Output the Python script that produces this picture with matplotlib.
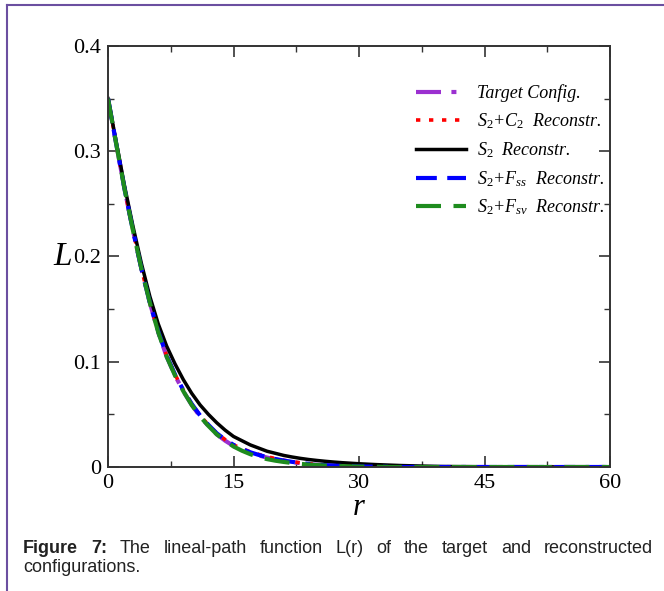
import matplotlib
matplotlib.use("Agg")
import matplotlib.pyplot as plt
from matplotlib.lines import Line2D
from matplotlib.ticker import MultipleLocator
from matplotlib.transforms import blended_transform_factory

plt.rcParams["mathtext.fontset"] = "custom"
plt.rcParams["mathtext.rm"] = "Liberation Serif"
plt.rcParams["mathtext.it"] = "Liberation Serif:italic"

# Distance r
r_vals = [0, 1, 2, 3, 4, 5, 6, 7, 8, 9, 10, 11, 12, 13, 14, 15, 16, 17, 18, 19, 20,
          21, 22, 23, 24, 25, 26, 27, 28, 29, 30, 31, 32, 33, 34, 35, 36, 37, 38, 39, 40,
          45, 50, 55, 60]

# Lineal-path function L(r) for each configuration
target_L = [0.350, 0.306, 0.263, 0.224, 0.188, 0.156, 0.128, 0.105, 0.087, 0.072, 0.059,
            0.048, 0.039, 0.031, 0.025, 0.020, 0.0165, 0.0135, 0.011, 0.009, 0.0072,
            0.0058, 0.0046, 0.0036, 0.0028, 0.0021, 0.0016, 0.0012, 0.0009, 0.0007, 0.0005,
            0.0004, 0.0003, 0.0002, 0.0001, 0.0, 0.0, 0.0, 0.0, 0.0, 0.0,
            0.0, 0.0, 0.0, 0.0]
s2c2_L = [0.350, 0.306, 0.263, 0.224, 0.188, 0.156, 0.129, 0.106, 0.088, 0.073, 0.060,
          0.049, 0.040, 0.032, 0.026, 0.021, 0.0175, 0.0145, 0.012, 0.0098, 0.008,
          0.0064, 0.0051, 0.004, 0.0031, 0.0024, 0.0018, 0.0013, 0.001, 0.0007, 0.0005,
          0.0004, 0.0003, 0.0002, 0.0001, 0.0, 0.0, 0.0, 0.0, 0.0, 0.0,
          0.0, 0.0, 0.0, 0.0]
s2_L = [0.350, 0.308, 0.266, 0.228, 0.193, 0.162, 0.136, 0.115, 0.098, 0.083, 0.070,
        0.059, 0.050, 0.042, 0.035, 0.029, 0.025, 0.021, 0.018, 0.015, 0.013,
        0.011, 0.0095, 0.0082, 0.0071, 0.0062, 0.0054, 0.0047, 0.0041, 0.0036, 0.0031,
        0.0027, 0.0023, 0.0020, 0.0017, 0.0014, 0.0012, 0.0010, 0.0008, 0.0006, 0.0005,
        0.0002, 0.0001, 0.0, 0.0]
s2fss_L = [0.350, 0.306, 0.263, 0.224, 0.188, 0.156, 0.129, 0.106, 0.088, 0.073, 0.060,
           0.049, 0.040, 0.032, 0.026, 0.021, 0.017, 0.014, 0.0115, 0.0094, 0.0076,
           0.0061, 0.0049, 0.0038, 0.003, 0.0023, 0.0017, 0.0013, 0.001, 0.0007, 0.0005,
           0.0004, 0.0003, 0.0002, 0.0001, 0.0, 0.0, 0.0, 0.0, 0.0, 0.0,
           0.0, 0.0, 0.0, 0.0]
s2fsv_L = [0.350, 0.306, 0.263, 0.224, 0.188, 0.156, 0.128, 0.105, 0.087, 0.072, 0.059,
           0.048, 0.039, 0.031, 0.025, 0.0195, 0.0155, 0.0122, 0.0095, 0.0075, 0.006,
           0.0048, 0.0038, 0.003, 0.0023, 0.0018, 0.0014, 0.001, 0.0008, 0.0006, 0.0004,
           0.0003, 0.0002, 0.0001, 0.0, 0.0, 0.0, 0.0, 0.0, 0.0, 0.0,
           0.0, 0.0, 0.0, 0.0]

labels = ["Target Config.", r"$S_2$+$C_2$  Reconstr.", r"$S_2$  Reconstr.",
          r"$S_2$+$F_{ss}$  Reconstr.", r"$S_2$+$F_{sv}$  Reconstr."]

fig = plt.figure(figsize=(6.64, 5.91), dpi=100)
ax = fig.add_axes([0.1627, 0.2098, 0.756, 0.7124])

ax.plot(r_vals, target_L, color="#9b30d0", lw=3, dashes=(6, 2.5, 1.2, 2.5), label=labels[0])
ax.plot(r_vals, s2c2_L, color="#ff0000", lw=2.6, dashes=(1.2, 2.4), label=labels[1])
ax.plot(r_vals, s2_L, color="black", lw=2.5, label=labels[2])
ax.plot(r_vals, s2fss_L, color="#0000ff", lw=3, dashes=(5, 2.5, 5, 2.5, 1.2, 2.5), label=labels[3])
ax.plot(r_vals, s2fsv_L, color="#1e8c1e", lw=3, dashes=(6, 3), label=labels[4])

ax.set_xlim(0, 60)
ax.set_ylim(0, 0.4)
ax.xaxis.set_minor_locator(MultipleLocator(7.5))
ax.yaxis.set_minor_locator(MultipleLocator(0.05))
ax.set_xticks([0, 15, 30, 45, 60])
ax.set_xticklabels(["0", "15", "30", "45", "60"])
ax.set_yticks([0, 0.1, 0.2, 0.3, 0.4])
ax.set_yticklabels(["0", "0.1", "0.2", "0.3", "0.4"])

ax.tick_params(which="both", direction="in", top=True, right=True, color="#333333")
ax.tick_params(which="major", length=8, width=1.2, labelsize=16, pad=5)
ax.tick_params(which="minor", length=4.5, width=1.0)
for lab in ax.get_xticklabels() + ax.get_yticklabels():
    lab.set_family("Liberation Serif")
for sp in ax.spines.values():
    sp.set_linewidth(1.4)
    sp.set_color("#333333")

ax.set_xlabel("r", fontsize=22, family="Liberation Serif", style="italic", labelpad=0)
trans = blended_transform_factory(ax.transAxes, ax.transData)
ax.text(-0.072, 0.2, "L", transform=trans, fontsize=24, family="Liberation Serif",
        style="italic", ha="right", va="center")

ax.legend(loc="upper left", bbox_to_anchor=(0.595, 0.93), frameon=False,
          prop={"family": "Liberation Serif", "style": "italic", "size": 13},
          handlelength=2.8, handletextpad=0.6, labelspacing=0.5, borderpad=0)

# purple frame of the figure panel
fig.add_artist(Line2D([7 / 664, 1], [1 - 5 / 591, 1 - 5 / 591], transform=fig.transFigure,
                      color="#6b4fa0", lw=1.5))
fig.add_artist(Line2D([7 / 664, 7 / 664], [0, 1 - 5 / 591], transform=fig.transFigure,
                      color="#6b4fa0", lw=1.5))

# caption, first line justified
W, H = 664, 591
words = [("Figure", "bold"), ("7:", "bold"), ("The", "normal"), ("lineal-path", "normal"),
         ("function", "normal"), ("L(r)", "normal"), ("of", "normal"), ("the", "normal"),
         ("target", "normal"), ("and", "normal"), ("reconstructed", "normal")]
cap_kw = dict(family="Liberation Sans", fontsize=13, color="#222222", va="baseline")
renderer = fig.canvas.get_renderer()
texts = []
for w, wt in words:
    t = fig.text(0, 1 - 553 / H, w, fontweight=wt, **cap_kw)
    texts.append(t)
widths = [t.get_window_extent(renderer).width for t in texts]
x0, x1 = 23, 653
gap = (x1 - x0 - sum(widths)) / (len(words) - 1)
x = x0
for t, wd in zip(texts, widths):
    t.set_x(x / W)
    x += wd + gap
fig.text(x0 / W, 1 - 572 / H, "configurations.", **cap_kw)

fig.savefig("out.png", dpi=100)
